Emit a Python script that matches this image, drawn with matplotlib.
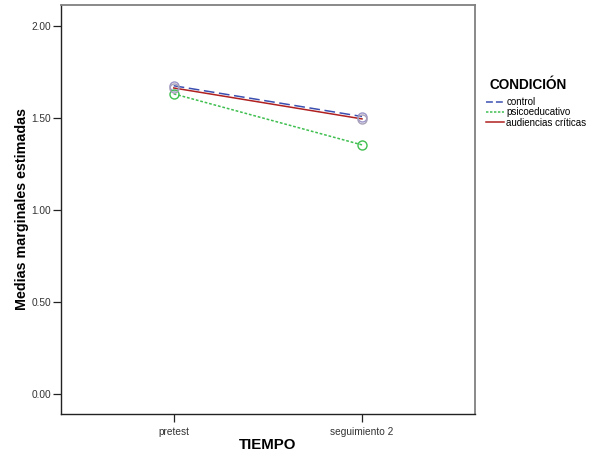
import matplotlib
matplotlib.use("Agg")
import matplotlib.pyplot as plt
from matplotlib.lines import Line2D

plt.rcParams['font.family'] = ['Liberation Sans', 'DejaVu Sans']

tiempo = ["pretest", "seguimiento 2"]
condiciones = ["control", "psicoeducativo", "audiencias críticas"]
control = [1.674, 1.507]
psicoeducativo = [1.630, 1.353]
audiencias = [1.662, 1.494]
yticks = [0.0, 0.5, 1.0, 1.5, 2.0]

colors = ["#3b4fb0", "#3fbf4f", "#b02020"]
styles = [(0, (7, 3)), (0, (1.8, 1.2)), "-"]
legend_styles = [(0, (4.5, 2)), (0, (1.6, 1.0)), "-"]
marker_colors = ["#9a94c8", "#3fbf4f", "#a8a0b8"]

fig = plt.figure(figsize=(6.09, 4.54), dpi=100)
ax = fig.add_axes([60.7 / 609, 1 - 414 / 454, (475 - 60.7) / 609, (414 - 4.7) / 454])

x = list(range(len(tiempo)))
series = [control, psicoeducativo, audiencias]
for vals, c, ls in zip(series, colors, styles):
    ax.plot(x, vals, color=c, linestyle=ls, linewidth=1.1, zorder=2)
for vals, mc in zip(series, marker_colors):
    ax.plot(x, vals, linestyle="none", marker="o", markersize=6.5,
            markerfacecolor="none", markeredgecolor=mc, markeredgewidth=1.0, zorder=3)

ax.set_xlim(-0.6, 1.6)
ax.set_ylim(-0.108, 2.114)
ax.set_xticks(x)
ax.set_xticklabels(tiempo, fontsize=7.3, color="#333333")
ax.set_yticks(yticks)
ax.set_yticklabels([f"{v:.2f}" for v in yticks], fontsize=7.3, color="#333333")
ax.tick_params(direction="out", length=6, width=0.9, color="#222222")
ax.tick_params(axis="y", pad=0.8)
ax.tick_params(axis="x", pad=3.5)

for side in ["left", "bottom"]:
    ax.spines[side].set_color("#222222")
    ax.spines[side].set_linewidth(1.0)
for side in ["top", "right"]:
    ax.spines[side].set_color("#808080")
    ax.spines[side].set_linewidth(1.3)

ax.set_xlabel("TIEMPO", fontsize=10.8, fontweight="bold", labelpad=0.5)
ax.set_ylabel("Medias marginales estimadas", fontsize=10.3, fontweight="bold", labelpad=2)

fig.text(528 / 609, 1 - 85 / 454, "CONDICIÓN", fontsize=9.8, fontweight="bold",
         ha="center", va="center")
handles = [Line2D([0], [0], color=c, linestyle=ls, linewidth=1.1)
           for c, ls in zip(colors, legend_styles)]
leg = fig.legend(handles, condiciones, loc="upper left", bbox_to_anchor=(486 / 609, 1 - 97 / 454),
                 frameon=False, fontsize=7, handlelength=1.8,
                 handletextpad=0.3, labelspacing=0.03, borderpad=0, borderaxespad=0)

fig.savefig("out.png", dpi=100)
